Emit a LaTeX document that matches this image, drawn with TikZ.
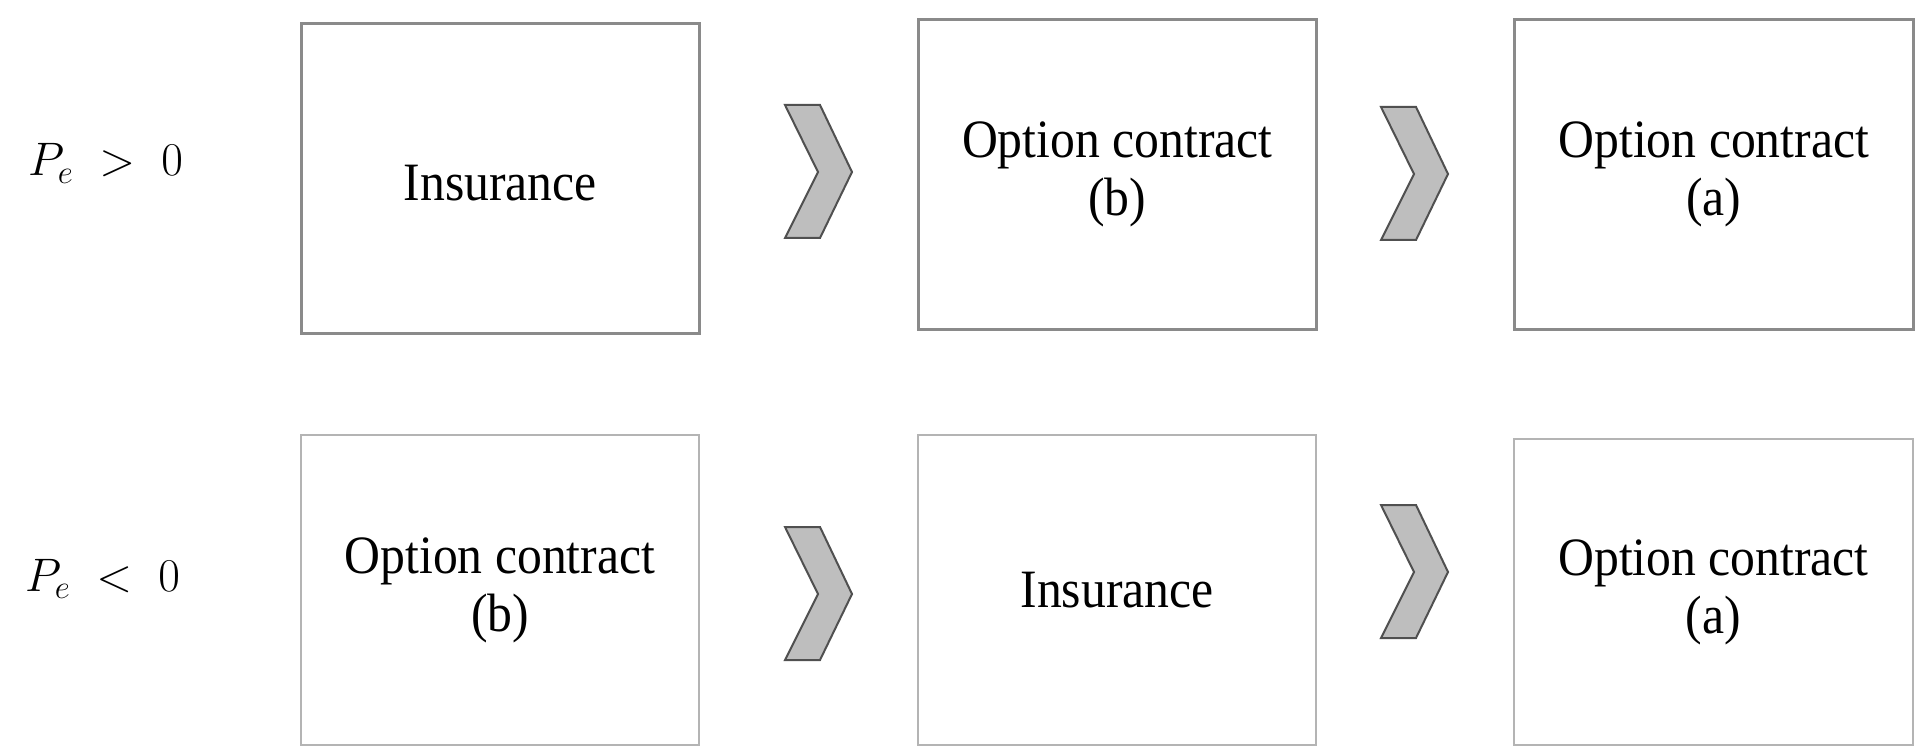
\RequirePackage{fix-cm}
\documentclass[tikz,border=0pt]{standalone}
\usepackage{fontspec}
\setmainfont{Liberation Serif}
\newfontfamily\boxfont[FakeStretch=0.92]{Liberation Serif}
\definecolor{topedge}{HTML}{8A8A8A}
\definecolor{botedge}{HTML}{B4B4B4}
\definecolor{chevfill}{HTML}{BEBEBE}
\definecolor{chevedge}{HTML}{505050}
\tikzset{
  stagebox/.style={draw, rectangle, anchor=north west, inner sep=0pt, align=center,
    font=\boxfont\fontsize{54}{58}\selectfont, text=black},
  toprow/.style={stagebox, draw=topedge, line width=2.6pt},
  botrow/.style={stagebox, draw=botedge, line width=2pt},
  chev/.style={fill=chevfill, draw=chevedge, line width=2pt, line join=miter},
  rowlabel/.style={anchor=base west, inner sep=0pt, font=\fontsize{47}{50}\selectfont}
}
\newcommand{\chevronat}[1]{%
  \draw[chev] (#1) -- ++(35,0) -- ++(32,67) -- ++(-32,66) -- ++(-35,0) -- ++(33,-66) -- cycle;}
\begin{document}
\begin{tikzpicture}[x=1pt,y=-1pt]
\useasboundingbox (0,0) rectangle (1923,751);
% row labels
\node[rowlabel] (lp) at (28,176) {$P_e\;>\;0$};
\node[rowlabel] (ln) at (25,591) {$P_e\;<\;0$};
% top row
\node[toprow, minimum width=398pt, minimum height=310pt] (t1) at (300,22) {\rule{0pt}{44pt}Insurance};
\node[toprow, minimum width=398pt, minimum height=310pt] (t2) at (917,18) {Option contract\\(b)};
\node[toprow, minimum width=399pt, minimum height=310pt] (t3) at (1513,18) {Option contract\\(a)};
% bottom row
\node[botrow, minimum width=398pt, minimum height=310pt] (b1) at (300,434) {Option contract\\(b)};
\node[botrow, minimum width=398pt, minimum height=310pt] (b2) at (917,434) {Insurance};
\node[botrow, minimum width=399pt, minimum height=306pt] (b3) at (1513,438) {Option contract\\(a)};
% chevrons
\coordinate (c1) at (785,105);
\coordinate (c2) at (1381,107);
\coordinate (c3) at (785,527);
\coordinate (c4) at (1381,505);
\chevronat{c1}
\chevronat{c2}
\chevronat{c3}
\chevronat{c4}
\end{tikzpicture}
\end{document}
